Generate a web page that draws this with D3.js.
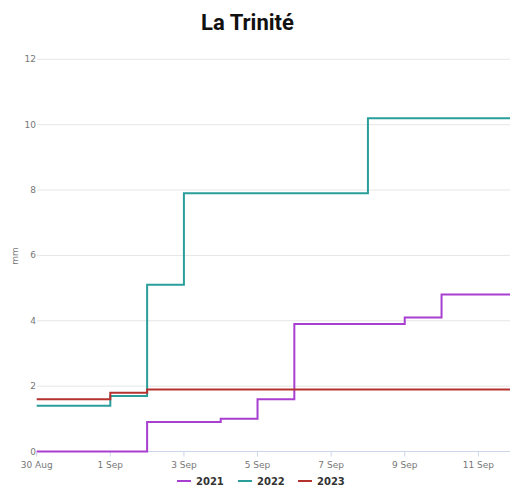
<!DOCTYPE html>
<html><head><meta charset="utf-8">
<script src="https://cdn.jsdelivr.net/npm/d3@7"></script>
<style>body{margin:0;background:#fff;}svg{display:block;}</style>
</head><body><svg id="c" width="510" height="486"></svg>
<script>
const dates = ["2023-08-30","2023-08-31","2023-09-01","2023-09-02","2023-09-03","2023-09-04","2023-09-05","2023-09-06","2023-09-07","2023-09-08","2023-09-09","2023-09-10","2023-09-11"];
const v2021 = [0,0,0,0.9,0.9,1.0,1.6,3.9,3.9,3.9,4.1,4.8,4.8];
const v2022 = [1.4,1.4,1.7,5.1,7.9,7.9,7.9,7.9,7.9,10.2,10.2,10.2,10.2];
const v2023 = [1.6,1.6,1.8,1.9,1.9,1.9,1.9,1.9,1.9,1.9,1.9,1.9,1.9];
const seriesNames = ["2021","2022","2023"];
const colors = ["#a83fd0","#2a9e9b","#b5322e"];
const yTicks = [0,2,4,6,8,10,12];

const svg = d3.select("#c");
const parse = d3.utcParse("%Y-%m-%d");
const xd = dates.map(parse);
const endDate = new Date(xd[xd.length-1].getTime() + 0.86*86400000);
const x = d3.scaleUtc().domain([xd[0], endDate]).range([36.7, 510]);
const y = d3.scaleLinear().domain([0,12]).range([451.5, 59.3]);

// grid
svg.append("g").selectAll("line").data(yTicks.filter(d=>d>0)).join("line")
  .attr("x1",37).attr("x2",510).attr("y1",d=>y(d)).attr("y2",d=>y(d))
  .attr("stroke","#e6e6e6").attr("stroke-width",1);
// y labels
svg.append("g").selectAll("text").data(yTicks).join("text")
  .attr("x",36).attr("y",d=>y(d)+3).attr("text-anchor","end")
  .attr("font-family","DejaVu Sans, sans-serif").attr("font-size",9).attr("fill","#777")
  .text(d=>d);
svg.append("text").attr("transform","translate(18,256) rotate(-90)")
  .attr("text-anchor","middle").attr("font-family","DejaVu Sans, sans-serif")
  .attr("font-size",9).attr("fill","#777").text("mm");

// x axis
const xTickDates = xd.filter((d,i)=>i%2===0);
svg.append("line").attr("x1",37).attr("x2",510).attr("y1",y(0)).attr("y2",y(0))
  .attr("stroke","#ccd6eb").attr("stroke-width",1);
svg.append("g").selectAll("line").data(xTickDates).join("line")
  .attr("x1",d=>x(d)).attr("x2",d=>x(d)).attr("y1",y(0)).attr("y2",y(0)+5)
  .attr("stroke","#ccd6eb");
const fmt = d3.utcFormat("%-d %b");
svg.append("g").selectAll("text").data(xTickDates).join("text")
  .attr("x",d=>x(d)).attr("y",468).attr("text-anchor","middle")
  .attr("font-family","DejaVu Sans, sans-serif").attr("font-size",9).attr("fill","#777")
  .text(d=>fmt(d));

// lines
const all = [v2021,v2022,v2023];
const line = d3.line().curve(d3.curveStepAfter).x(d=>x(d[0])).y(d=>y(d[1]));
all.forEach((vals,k)=>{
  const pts = vals.map((v,i)=>[xd[i],v]);
  pts.push([endDate, vals[vals.length-1]]);
  svg.append("path").datum(pts).attr("d",line).attr("fill","none")
    .attr("stroke",colors[k]).attr("stroke-width",2);
});

// title
svg.append("text").attr("x",247.5).attr("y",30).attr("text-anchor","middle")
  .attr("font-family","Roboto, sans-serif").attr("font-weight","bold").attr("font-size",22)
  .attr("fill","#111").text("La Trinité");

// legend
const lx = [177,238,298];
const lg = svg.append("g").selectAll("g").data(seriesNames).join("g")
  .attr("transform",(d,i)=>`translate(${lx[i]},481)`);
lg.append("line").attr("x1",0).attr("x2",14).attr("y1",0).attr("y2",0)
  .attr("stroke",(d,i)=>colors[i]).attr("stroke-width",2);
lg.append("text").attr("x",19).attr("y",4).attr("font-family","DejaVu Sans, sans-serif")
  .attr("font-weight","bold").attr("font-size",10).attr("fill","#333").text(d=>d);
</script></body></html>
